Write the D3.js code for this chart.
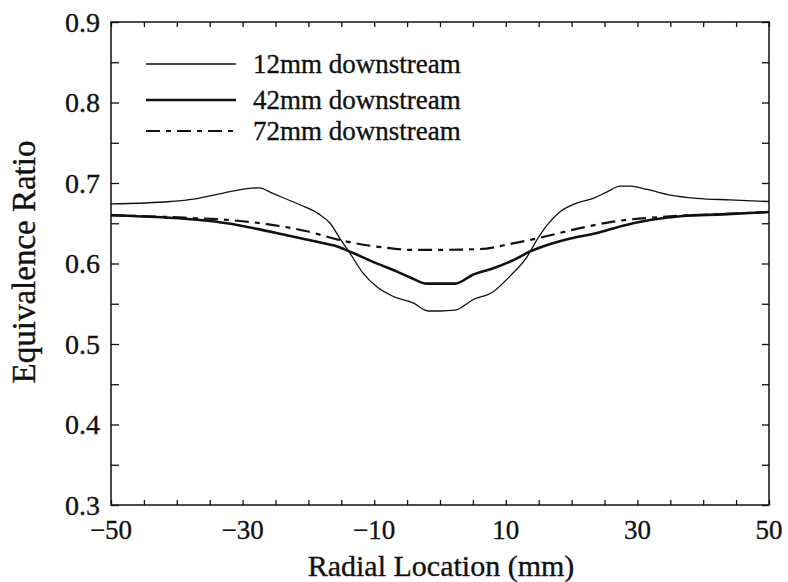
<!DOCTYPE html>
<html>
<head>
<meta charset="utf-8">
<script src="https://cdn.jsdelivr.net/npm/d3@7"></script>
<style>
  body { margin: 0; background: #fff; }
  svg text { font-family: "Liberation Serif", "Times New Roman", serif; fill: #111; stroke: #111; stroke-width: 0.35; }
</style>
</head>
<body>
<div id="chart"></div>
<script>
// radial location (mm) and equivalence ratio
const x12 = [-50, -41, -37.5, -35, -31.5, -29.3, -27.5, -25.4, -23.9, -21.3, -18.5, -16.7, -15.2, -13.7, -11.7, -9.6, -7.1, -4.1, -1.8, 0, 2.3, 5.0, 8.1, 10.6, 13.2, 14.7, 16.3, 18.2, 20.8, 23.3, 25.4, 27.4, 28.9, 31.5, 35, 39, 44, 50];
const phi12 = [0.674, 0.677, 0.680, 0.684, 0.690, 0.693, 0.694, 0.687, 0.682, 0.673, 0.662, 0.650, 0.631, 0.613, 0.588, 0.571, 0.559, 0.551, 0.541, 0.541, 0.542, 0.555, 0.565, 0.584, 0.608, 0.629, 0.648, 0.664, 0.675, 0.681, 0.689, 0.696, 0.696, 0.692, 0.685, 0.681, 0.679, 0.677];

const x42 = [-50, -41.5, -36.5, -32.4, -27.8, -23.3, -18.2, -15.2, -13.2, -10.2, -7.1, -4.6, -2.0, 0, 2.3, 5.0, 8.1, 11.1, 13.7, 16.3, 19.8, 23.9, 27.8, 31.9, 36.9, 43, 50];
const phi42 = [0.660, 0.657, 0.654, 0.650, 0.643, 0.635, 0.626, 0.620, 0.613, 0.602, 0.592, 0.583, 0.575, 0.575, 0.575, 0.586, 0.594, 0.604, 0.615, 0.623, 0.631, 0.638, 0.647, 0.654, 0.659, 0.661, 0.664];

const x72 = [-50, -39, -32, -26.3, -20.2, -15.2, -8.7, -4.6, 0, 6.1, 11.1, 15.2, 21.3, 26.3, 33.9, 41.5, 50];
const phi72 = [0.660, 0.657, 0.654, 0.649, 0.640, 0.629, 0.620, 0.617, 0.617, 0.618, 0.625, 0.632, 0.644, 0.652, 0.658, 0.661, 0.664];

const seriesNames = ["12mm downstream", "42mm downstream", "72mm downstream"];
const xTickLabels = [-50, -30, -10, 10, 30, 50];
const yTickLabels = [0.3, 0.4, 0.5, 0.6, 0.7, 0.8, 0.9];

const width = 788, height = 582;
const margin = { top: 22, right: 19, bottom: 77, left: 111 };
const innerW = width - margin.left - margin.right;
const innerH = height - margin.top - margin.bottom;

const svg = d3.select("#chart").append("svg")
    .attr("width", width)
    .attr("height", height);

const g = svg.append("g")
    .attr("transform", `translate(${margin.left}, ${margin.top})`);

const xScale = d3.scaleLinear().domain([-50, 50]).range([0, innerW]);
const yScale = d3.scaleLinear().domain([0.3, 0.9]).range([innerH, 0]);

const minus = d => (d < 0 ? "\u2212" + Math.abs(d) : String(d));

// inward ticks on all four sides
const xMinor = d3.range(-50, 50.01, 5);
const yMinor = d3.range(0.3, 0.901, 0.05);

g.append("g").attr("transform", `translate(0, ${innerH})`)
    .call(d3.axisBottom(xScale).tickValues(xMinor).tickSize(-5).tickFormat(""))
    .call(a => a.select(".domain").remove());
g.append("g")
    .call(d3.axisTop(xScale).tickValues(xMinor).tickSize(-5).tickFormat(""))
    .call(a => a.select(".domain").remove());
g.append("g")
    .call(d3.axisLeft(yScale).tickValues(yMinor).tickSize(-8).tickFormat(""))
    .call(a => a.select(".domain").remove());
g.append("g").attr("transform", `translate(${innerW}, 0)`)
    .call(d3.axisRight(yScale).tickValues(yMinor).tickSize(-7).tickFormat(""))
    .call(a => a.select(".domain").remove());
g.selectAll(".tick line").attr("stroke", "#111").attr("stroke-width", 1.3);

// tick labels
g.selectAll(".xlab").data(xTickLabels).enter().append("text")
    .attr("class", "xlab")
    .attr("x", d => xScale(d))
    .attr("y", innerH + 34)
    .attr("text-anchor", "middle")
    .attr("font-size", 27)
    .text(minus);

g.selectAll(".ylab").data(yTickLabels).enter().append("text")
    .attr("class", "ylab")
    .attr("x", -11)
    .attr("y", d => yScale(d))
    .attr("dy", "0.35em")
    .attr("text-anchor", "end")
    .attr("font-size", 28)
    .text(d => d.toFixed(1));

// frame
g.append("rect")
    .attr("width", innerW).attr("height", innerH)
    .attr("fill", "none").attr("stroke", "#111").attr("stroke-width", 1.5);

// axis titles
svg.append("text")
    .attr("x", 441)
    .attr("y", 576)
    .attr("text-anchor", "middle")
    .attr("font-size", 30)
    .text("Radial Location (mm)");

svg.append("text")
    .attr("transform", "translate(35, 262) rotate(-90)")
    .attr("text-anchor", "middle")
    .attr("font-size", 33)
    .text("Equivalence Ratio");

// curves
const styles = [
    { w: 1.3, dash: null },
    { w: 2.6, dash: null },
    { w: 2.2, dash: "14,6,5,6" }
];
const seriesData = [
    x12.map((x, i) => [x, phi12[i]]),
    x42.map((x, i) => [x, phi42[i]]),
    x72.map((x, i) => [x, phi72[i]])
];

const line = d3.line()
    .x(d => xScale(d[0]))
    .y(d => yScale(d[1]))
    .curve(d3.curveMonotoneX);

g.selectAll(".series").data(seriesData).enter().append("path")
    .attr("class", "series")
    .attr("d", line)
    .attr("fill", "none")
    .attr("stroke", "#111")
    .attr("stroke-width", (d, i) => styles[i].w)
    .attr("stroke-dasharray", (d, i) => styles[i].dash);

// legend
const legendY = [42, 78, 109];
const legend = g.selectAll(".legend").data(seriesNames).enter().append("g")
    .attr("class", "legend")
    .attr("transform", (d, i) => `translate(0, ${legendY[i]})`);

legend.append("line")
    .attr("x1", 35).attr("x2", 125)
    .attr("stroke", "#111")
    .attr("stroke-width", (d, i) => styles[i].w)
    .attr("stroke-dasharray", (d, i) => styles[i].dash);

legend.append("text")
    .attr("x", 142)
    .attr("dy", "0.35em")
    .attr("font-size", 27)
    .text(d => d);
</script>
</body>
</html>
